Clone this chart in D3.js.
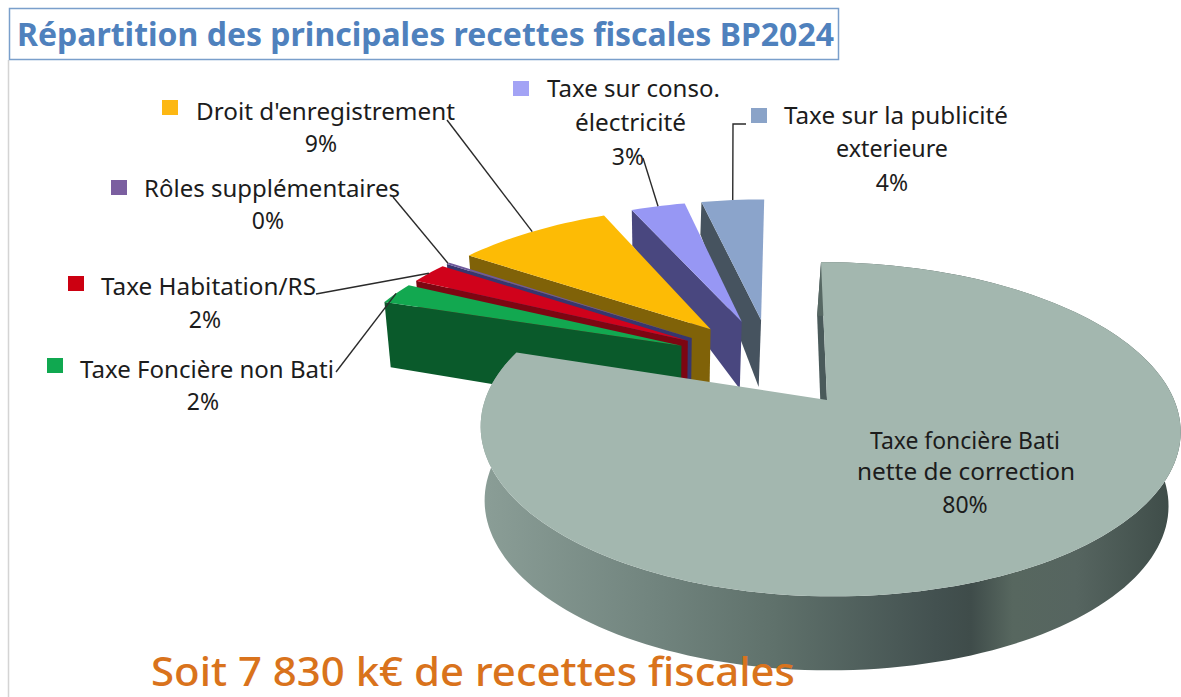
<!DOCTYPE html>
<html>
<head>
<meta charset="utf-8">
<script src="https://cdn.jsdelivr.net/npm/d3@7/dist/d3.min.js"></script>
<style>
html,body{margin:0;padding:0;background:#fff;overflow:hidden}
svg{display:block}
text{font-family:"Noto Sans",sans-serif;fill:#1c1c1c}
</style>
</head>
<body>
<svg id="c" width="1181" height="697"></svg>
<script>
// ---- data ----
const titleText = "Répartition des principales recettes fiscales BP2024";
const footerText = "Soit 7 830 k€ de recettes fiscales";
const categories = ["Taxe foncière Bati nette de correction","Taxe Foncière non Bati","Taxe Habitation/RS","Rôles supplémentaires","Droit d'enregistrement","Taxe sur conso. électricité","Taxe sur la publicité exterieure"];
const values = [80,2.2,2.1,0.2,8.8,3.1,3.6];
const percentLabels = ["80%","2%","2%","0%","9%","3%","4%"];
const topColors = ["#a3b7af","#12a850","#d0021b","#6f5a9c","#fdbb05","#9797f4","#8ba4cb"];
const wallColors = ["#6f827c","#0a5a2b","#7d0612","#37366f","#806208","#49477f","#46535f"];
const keyColors = ["#a3b7af","#10a850","#cc0011","#7b5fa0","#fdb813","#a3a3f5","#8aa3c8"];

// ---- layout ----
const W = 1181, H = 697;
const svg = d3.select("#c");
const origin = {x:827, y:400};
const cam = {sx:342, sy:162, persp:0.175, skew:6, shrink:0.977, shiftZ:-4, rightStretch:1.015};
const explode = 0.30;
const smallRadius = 1.04, smallShift = 3;

const pie = d3.pie().sort(null).value(d=>d);
const arcs = pie(values);

function depth(Y){
  if(Y < 0) return 74;
  if(Y < 0.7) return 74 - 9*Y/0.7;
  return 65 - 38*(Y-0.7);
}
function project(X,Y,z,dx){
  const w = 1 + cam.persp*Y;
  const XX = X > 0 ? X*cam.rightStretch : X;
  let x = origin.x + cam.sx*XX/w - cam.skew*Y;
  let y = origin.y - cam.sy*Y/w;
  if(z){
    x = origin.x + (x-origin.x)*cam.shrink + cam.shiftZ;
    y += depth(Y);
  }
  return [x+(dx||0),y];
}
const mainMid = (arcs[0].startAngle+arcs[0].endAngle)/2;
const centre = {X:-explode*Math.sin(mainMid), Y:-explode*Math.cos(mainMid)};
function apexOf(a){
  const m=(a.startAngle+a.endAngle)/2;
  return {X:centre.X+explode*Math.sin(m), Y:centre.Y+explode*Math.cos(m)};
}
function rim(a,ang){
  const p=apexOf(a), r=a.index===0?1:smallRadius;
  return {X:p.X+r*Math.sin(ang), Y:p.Y+r*Math.cos(ang)};
}
const line = d3.line();
function arcPts(a,from,to,z){
  const n=Math.max(4,Math.ceil(Math.abs(to-from)/0.03));
  const dx=a.index===0?0:smallShift;
  return d3.range(n+1).map(i=>{
    const q=rim(a,from+(to-from)*i/n);
    return project(q.X,q.Y,z,dx);
  });
}

const defs = svg.append("defs");
const grad = defs.append("linearGradient").attr("id","mainWall")
  .attr("gradientUnits","userSpaceOnUse").attr("x1",480).attr("x2",1181).attr("y1",0).attr("y2",0);
[[0,"#8b9e97"],[0.25,"#71847e"],[0.42,"#5f716b"],[0.65,"#435150"],[0.7,"#3f4c4a"],[0.76,"#57675f"],[0.85,"#566560"],[1,"#3c4a46"]]
  .forEach(s=>grad.append("stop").attr("offset",s[0]).attr("stop-color",s[1]));

// frame
svg.append("line").attr("x1",8.5).attr("x2",8.5).attr("y1",60).attr("y2",H).attr("stroke","#d4d4d4").attr("stroke-width",1.5);
svg.append("rect").attr("x",9.5).attr("y",8.5).attr("width",829).attr("height",51).attr("fill","#fff").attr("stroke","#7a9fcb").attr("stroke-width",1.5);
svg.append("text").attr("x",17).attr("y",46).attr("textLength",817).attr("lengthAdjust","spacingAndGlyphs")
  .style("font-size","32px").style("font-weight",700).style("fill","#4f81bd").text(titleText);

// slices, far to near
const drawOrder = [6,5,4,3,2,1];
const slices = svg.append("g");
drawOrder.forEach(i=>{
  const a=arcs[i], p=apexOf(a);
  const s=rim(a,a.startAngle);
  slices.append("path").attr("fill",wallColors[i]).attr("d",line([
    project(p.X,p.Y,0,smallShift),project(s.X,s.Y,0,smallShift),project(s.X,s.Y,1,smallShift),project(p.X,p.Y,1,smallShift)
  ])+"Z");
  slices.append("path").attr("fill",topColors[i]).attr("d",line(
    [project(p.X,p.Y,0,smallShift)].concat(arcPts(a,a.startAngle,a.endAngle,0))
  )+"Z");
});
// main slice
{
  const a=arcs[0], p=apexOf(a);
  const s=rim(a,a.startAngle);
  const top=arcPts(a,a.startAngle,a.endAngle,0);
  const low=arcPts(a,a.startAngle,a.endAngle,1).reverse();
  slices.append("path").attr("fill","#4a5a5a").attr("d",line([
    project(p.X,p.Y,0),project(s.X,s.Y,0),project(s.X,s.Y,1),project(p.X,p.Y,1)
  ])+"Z");
  slices.append("path").attr("fill","url(#mainWall)").attr("d",line(top.concat(low))+"Z");
  slices.append("path").attr("fill",topColors[0]).attr("d",line([project(p.X,p.Y,0)].concat(top))+"Z");
}

// leaders: [slice index, text-side points]
const leaders = [
  [4,[[447,120]]],
  [3,[[393,197]]],
  [2,[[316,294]]],
  [1,[[336,372]]],
  [5,[[643,158]]],
  [6,[[746,124],[733,124]]]
];
const leadG = svg.append("g").attr("fill","none").attr("stroke","#2a2a2a").attr("stroke-width",1.4);
leaders.forEach(([i,pts])=>{
  const a=arcs[i];
  const q=rim(a,(a.startAngle+a.endAngle)/2);
  leadG.append("path").attr("d",line(pts.concat([project(q.X,q.Y,0,smallShift)])));
});

// labels
const labelLayout = [
  {i:4,key:[162,100],lines:[["Droit d'enregistrement",196,120,259]],pct:[321,152]},
  {i:3,key:[111,180],lines:[["Rôles supplémentaires",144,197,256]],pct:[268,229]},
  {i:2,key:[68,276],lines:[["Taxe Habitation/RS",101,295,215]],pct:[205,328]},
  {i:1,key:[47,358],lines:[["Taxe Foncière non Bati",80,378,254]],pct:[203,410]},
  {i:5,key:[513,81],lines:[["Taxe sur conso.",547,97,173],["électricité",575,131,111]],pct:[628,165]},
  {i:6,key:[751,108],lines:[["Taxe sur la publicité",784,124,224],["exterieure",836,157,112]],pct:[892,191]},
  {i:0,key:null,lines:[["Taxe foncière Bati",870,449,190],["nette de correction",857,480,218]],pct:[965,513]}
];
const labG = svg.append("g").style("font-size","23px");
labelLayout.forEach(l=>{
  if(l.key) labG.append("rect").attr("x",l.key[0]).attr("y",l.key[1]).attr("width",16).attr("height",15).attr("fill",keyColors[l.i]);
  l.lines.forEach(t=>{
    labG.append("text").attr("x",t[1]).attr("y",t[2]).attr("textLength",t[3]).attr("lengthAdjust","spacingAndGlyphs").text(t[0]);
  });
  labG.append("text").attr("x",l.pct[0]).attr("y",l.pct[1]).attr("text-anchor","middle").text(percentLabels[l.i]);
});

// footer
svg.append("text").attr("x",151).attr("y",686).attr("textLength",644).attr("lengthAdjust","spacingAndGlyphs")
  .style("font-size","40px").style("font-weight",500).style("fill","#d9731c").text(footerText);
</script>
</body>
</html>
